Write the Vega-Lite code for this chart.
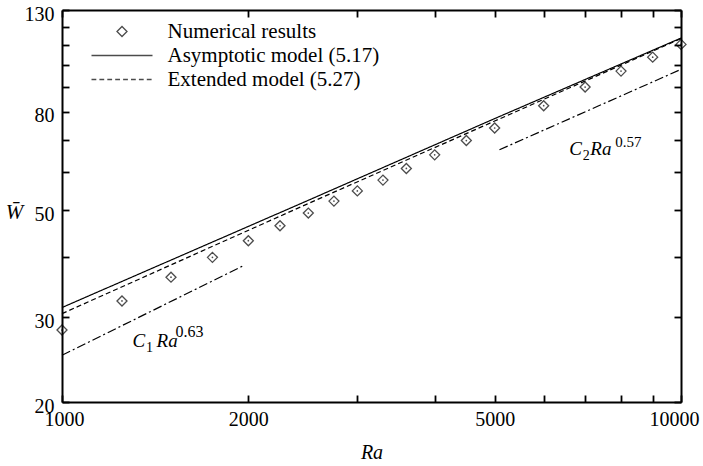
{
  "$schema": "https://vega.github.io/schema/vega-lite/v6.json",
  "width": 619,
  "height": 392,
  "autosize": "none",
  "padding": {"left": 62, "top": 10, "right": 22, "bottom": 64},
  "background": "white",
  "datasets": {
    "numerical": [
      {"Ra": 1000, "W": 28.2, "series": "Numerical results"},
      {"Ra": 1250, "W": 32.4, "series": "Numerical results"},
      {"Ra": 1500, "W": 36.3, "series": "Numerical results"},
      {"Ra": 1750, "W": 39.9, "series": "Numerical results"},
      {"Ra": 2000, "W": 43.2, "series": "Numerical results"},
      {"Ra": 2250, "W": 46.4, "series": "Numerical results"},
      {"Ra": 2500, "W": 49.3, "series": "Numerical results"},
      {"Ra": 2750, "W": 52.2, "series": "Numerical results"},
      {"Ra": 3000, "W": 54.8, "series": "Numerical results"},
      {"Ra": 3300, "W": 57.7, "series": "Numerical results"},
      {"Ra": 3600, "W": 61.0, "series": "Numerical results"},
      {"Ra": 4000, "W": 65.1, "series": "Numerical results"},
      {"Ra": 4500, "W": 69.7, "series": "Numerical results"},
      {"Ra": 5000, "W": 74.0, "series": "Numerical results"},
      {"Ra": 6000, "W": 82.3, "series": "Numerical results"},
      {"Ra": 7000, "W": 90.0, "series": "Numerical results"},
      {"Ra": 8000, "W": 97.1, "series": "Numerical results"},
      {"Ra": 9000, "W": 103.8, "series": "Numerical results"},
      {"Ra": 10000, "W": 110.3, "series": "Numerical results"}
    ],
    "models": [
      {"Ra": 1000, "W": 31.4, "series": "asymptotic"},
      {"Ra": 2500, "W": 52.4, "series": "asymptotic"},
      {"Ra": 5000, "W": 77.4, "series": "asymptotic"},
      {"Ra": 10000, "W": 113.7, "series": "asymptotic"},
      {"Ra": 1000, "W": 30.5, "series": "extended"},
      {"Ra": 2500, "W": 51.6, "series": "extended"},
      {"Ra": 5000, "W": 76.5, "series": "extended"},
      {"Ra": 10000, "W": 113.4, "series": "extended"},
      {"Ra": 1000, "W": 25.0, "series": "c1"},
      {"Ra": 1960, "W": 38.3, "series": "c1"},
      {"Ra": 5090, "W": 66.7, "series": "c2"},
      {"Ra": 10000, "W": 97.9, "series": "c2"}
    ],
    "notes": [
      {"Ra": 1300, "W": 26.0, "name": "low", "base": "C", "sub": "1", "sup": "0.63"},
      {"Ra": 6600, "W": 65.0, "name": "high", "base": "C", "sub": "2", "sup": "0.57"}
    ]
  },
  "layer": [
    {
      "data": {"name": "models"},
      "mark": {"type": "line", "color": "black", "strokeWidth": 1.2},
      "encoding": {
        "x": {
          "field": "Ra", "type": "quantitative",
          "scale": {"type": "log", "domain": [1000, 10000], "nice": false},
          "axis": {
            "orient": "bottom",
            "values": [1000, 2000, 3000, 4000, 5000, 6000, 7000, 8000, 9000, 10000],
            "labelExpr": "(datum.value == 1000 || datum.value == 2000 || datum.value == 5000 || datum.value == 10000) ? '' + datum.value : ''",
            "labelFlush": true,
            "labelFlushOffset": 18,
            "labelPadding": 14,
            "labelBaseline": "top",
            "domainColor": "black", "domainWidth": 2,
            "tickColor": "black", "tickWidth": 1.8, "tickSize": -7,
            "title": "Ra",
            "titleFontStyle": "italic",
            "titleFontSize": 20,
            "titleX": 309.5,
            "titleY": 56,
            "titleAlign": "center",
            "titleBaseline": "alphabetic"
          }
        },
        "y": {
          "field": "W", "type": "quantitative",
          "scale": {"type": "log", "domain": [20, 130], "nice": false},
          "axis": {
            "orient": "left",
            "values": [20, 30, 40, 50, 60, 70, 80, 90, 100, 110, 120, 130],
            "labelExpr": "(datum.value == 20 || datum.value == 30 || datum.value == 50 || datum.value == 80 || datum.value == 130) ? '' + datum.value : ''",
            "labelPadding": 15,
            "labelOffset": 4,
            "domainColor": "black", "domainWidth": 2,
            "tickColor": "black", "tickWidth": 1.8, "tickSize": -7,
            "title": "W\u0304",
            "titleFontStyle": "italic",
            "titleFontSize": 21,
            "titleAngle": 0,
            "titleX": -48,
            "titleY": 208,
            "titleAlign": "center",
            "titleBaseline": "alphabetic"
          }
        },
        "strokeDash": {
          "field": "series", "type": "nominal",
          "scale": {
            "domain": ["asymptotic", "extended", "c1", "c2"],
            "range": [[1, 0], [5, 3], [9, 3, 2, 3], [9, 3, 2, 3]]
          },
          "legend": null
        }
      }
    },
    {
      "data": {"name": "numerical"},
      "mark": {"type": "point", "filled": false, "color": "black", "strokeWidth": 1.3, "size": 100},
      "encoding": {
        "x": {
          "field": "Ra", "type": "quantitative",
          "scale": {"type": "log", "domain": [1000, 10000], "nice": false},
          "axis": {
            "orient": "top",
            "values": [1000, 2000, 3000, 4000, 5000, 6000, 7000, 8000, 9000, 10000],
            "labels": false,
            "domainColor": "black", "domainWidth": 2,
            "tickColor": "black", "tickWidth": 1.8, "tickSize": -7,
            "title": null
          }
        },
        "y": {
          "field": "W", "type": "quantitative",
          "scale": {"type": "log", "domain": [20, 130], "nice": false},
          "axis": {
            "orient": "right",
            "values": [20, 30, 40, 50, 60, 70, 80, 90, 100, 110, 120, 130],
            "labels": false,
            "domainColor": "black", "domainWidth": 2,
            "tickColor": "black", "tickWidth": 1.8, "tickSize": -7,
            "title": null
          }
        },
        "shape": {
          "field": "series", "type": "nominal",
          "scale": {
            "domain": ["Numerical results", "Asymptotic model (5.17)", "Extended model (5.27)"],
            "range": [
              "diamond",
              "M-6.1,0L6.1,0",
              "M-6.1,0L-5.14,0M-4.52,0L-3.56,0M-2.94,0L-1.98,0M-1.36,0L-0.4,0M0.22,0L1.18,0M1.8,0L2.76,0M3.38,0L4.34,0M4.96,0L5.92,0"
            ]
          },
          "legend": {
            "title": null,
            "orient": "none",
            "legendX": 49.5,
            "legendY": 11,
            "padding": 0,
            "rowPadding": 2,
            "labelOffset": 35,
            "labelFont": "Liberation Serif",
            "labelFontSize": 21,
            "labelColor": "black",
            "labelLimit": 400,
            "symbolSize": 100,
            "symbolStrokeColor": "black",
            "symbolFillColor": "transparent",
            "symbolStrokeWidth": 1.3
          }
        }
      }
    },
    {
      "data": {"name": "numerical"},
      "mark": {"type": "point", "shape": "circle", "filled": true, "color": "black", "size": 3},
      "encoding": {
        "x": {"field": "Ra", "type": "quantitative", "scale": {"type": "log", "domain": [1000, 10000], "nice": false}, "axis": null},
        "y": {"field": "W", "type": "quantitative", "scale": {"type": "log", "domain": [20, 130], "nice": false}, "axis": null}
      }
    },
    {
      "data": {"name": "notes"},
      "mark": {"type": "text", "align": "left", "baseline": "alphabetic", "font": "Liberation Serif", "fontStyle": "italic", "fontSize": 19, "color": "black"},
      "encoding": {
        "x": {"field": "Ra", "type": "quantitative", "scale": {"type": "log", "domain": [1000, 10000], "nice": false}, "axis": null},
        "y": {"field": "W", "type": "quantitative", "scale": {"type": "log", "domain": [20, 130], "nice": false}, "axis": null},
        "text": {"field": "base"}
      }
    },
    {
      "data": {"name": "notes"},
      "mark": {"type": "text", "align": "left", "baseline": "alphabetic", "font": "Liberation Serif", "fontSize": 14, "dx": 13.5, "dy": 5, "color": "black"},
      "encoding": {
        "x": {"field": "Ra", "type": "quantitative", "scale": {"type": "log", "domain": [1000, 10000], "nice": false}, "axis": null},
        "y": {"field": "W", "type": "quantitative", "scale": {"type": "log", "domain": [20, 130], "nice": false}, "axis": null},
        "text": {"field": "sub"}
      }
    },
    {
      "data": {"name": "notes"},
      "transform": [{"filter": "datum.name == 'low'"}],
      "mark": {"type": "text", "align": "left", "baseline": "alphabetic", "font": "Liberation Serif", "fontStyle": "italic", "fontSize": 19, "dx": 24, "color": "black", "text": "Ra"},
      "encoding": {
        "x": {"field": "Ra", "type": "quantitative", "scale": {"type": "log", "domain": [1000, 10000], "nice": false}, "axis": null},
        "y": {"field": "W", "type": "quantitative", "scale": {"type": "log", "domain": [20, 130], "nice": false}, "axis": null}
      }
    },
    {
      "data": {"name": "notes"},
      "transform": [{"filter": "datum.name == 'high'"}],
      "mark": {"type": "text", "align": "left", "baseline": "alphabetic", "font": "Liberation Serif", "fontStyle": "italic", "fontSize": 19, "dx": 21, "color": "black", "text": "Ra"},
      "encoding": {
        "x": {"field": "Ra", "type": "quantitative", "scale": {"type": "log", "domain": [1000, 10000], "nice": false}, "axis": null},
        "y": {"field": "W", "type": "quantitative", "scale": {"type": "log", "domain": [20, 130], "nice": false}, "axis": null}
      }
    },
    {
      "data": {"name": "notes"},
      "transform": [{"filter": "datum.name == 'low'"}],
      "mark": {"type": "text", "align": "left", "baseline": "alphabetic", "font": "Liberation Serif", "fontSize": 16, "dx": 43, "dy": -10, "color": "black"},
      "encoding": {
        "x": {"field": "Ra", "type": "quantitative", "scale": {"type": "log", "domain": [1000, 10000], "nice": false}, "axis": null},
        "y": {"field": "W", "type": "quantitative", "scale": {"type": "log", "domain": [20, 130], "nice": false}, "axis": null},
        "text": {"field": "sup"}
      }
    },
    {
      "data": {"name": "notes"},
      "transform": [{"filter": "datum.name == 'high'"}],
      "mark": {"type": "text", "align": "left", "baseline": "alphabetic", "font": "Liberation Serif", "fontSize": 15, "dx": 46, "dy": -8, "color": "black"},
      "encoding": {
        "x": {"field": "Ra", "type": "quantitative", "scale": {"type": "log", "domain": [1000, 10000], "nice": false}, "axis": null},
        "y": {"field": "W", "type": "quantitative", "scale": {"type": "log", "domain": [20, 130], "nice": false}, "axis": null},
        "text": {"field": "sup"}
      }
    }
  ],
  "resolve": {"axis": {"x": "independent", "y": "independent"}},
  "config": {
    "font": "Liberation Serif",
    "view": {"stroke": null},
    "axis": {
      "grid": false,
      "labelFont": "Liberation Serif",
      "labelFontSize": 20,
      "labelColor": "black",
      "titleFont": "Liberation Serif",
      "titleColor": "black",
      "titleFontWeight": "normal"
    }
  }
}
